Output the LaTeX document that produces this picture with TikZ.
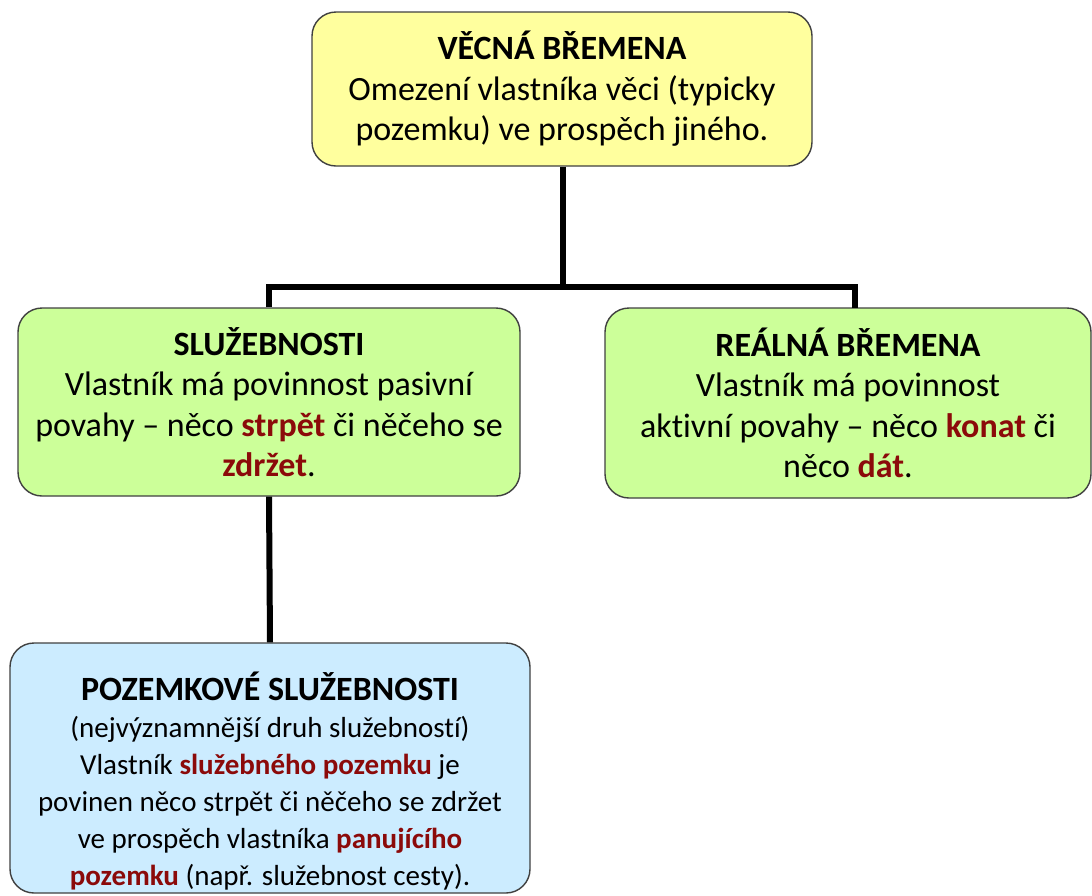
\documentclass[tikz,border=0pt]{standalone}
\usepackage{fontspec}
\setmainfont{Carlito}[Ligatures={NoCommon,NoContextual}]
\definecolor{boxyellow}{HTML}{FFFF9E}
\definecolor{boxgreen}{HTML}{CCFF99}
\definecolor{boxblue}{HTML}{CCECFF}
\definecolor{hlred}{HTML}{8B0A0A}
\definecolor{edgegray}{HTML}{404040}
\newcommand{\hl}[1]{\textcolor{hlred}{\textbf{#1}}}
\begin{document}
\begin{tikzpicture}[x=1pt,y=-1pt,
  box/.style={draw=edgegray, line width=1.4pt, rounded corners=24pt, align=center,
     inner sep=0pt, font=\fontsize{34}{40.5}\selectfont},
  boxtext/.style={align=center, inner sep=0pt},
  conn/.style={line width=6pt, black}]
\useasboundingbox (0,0) rectangle (1092,895);
\node[box, fill=boxyellow, minimum width=500pt, minimum height=154pt] (top) at (562,89)
  {\textbf{VĚCNÁ BŘEMENA}\\Omezení vlastníka věci (typicky\\pozemku) ve prospěch jiného.};
\node[box, fill=boxgreen, minimum width=502pt, minimum height=188pt] (left) at (269,402)
  {\textbf{SLUŽEBNOSTI}\\Vlastník má povinnost pasivní\\povahy – něco \hl{strpět} či něčeho se\\\hl{zdržet}.};
\node[box, fill=boxgreen, minimum width=486pt, minimum height=190pt] (right) at (848,403)
  {\textbf{REÁLNÁ BŘEMENA}\\Vlastník má povinnost\\aktivní povahy – něco \hl{konat} či\\něco \hl{dát}.};
\node[box, fill=boxblue, minimum width=520pt, minimum height=250pt] (bottom) at (270,768) {};
\node[boxtext, font=\fontsize{29}{37}\selectfont] (bottomtext) at (270,781)
  {{\fontsize{34}{37}\selectfont\textbf{POZEMKOVÉ SLUŽEBNOSTI}}\\(nejvýznamnější druh služebností)\\Vlastník \hl{služebného pozemku} je\\povinen něco strpět či něčeho se zdržet\\ve prospěch vlastníka \hl{panujícího}\\\hl{pozemku} (např. služebnost cesty).};
\coordinate (bus) at (563,287);
\coordinate (rtop) at (855,308);
\draw[conn] (top.south -| bus) -- (bus);
\draw[conn] (left.north) |- (bus) -| (rtop);
\draw[conn] (left.south) -- (bottom.north);
\end{tikzpicture}
\end{document}
